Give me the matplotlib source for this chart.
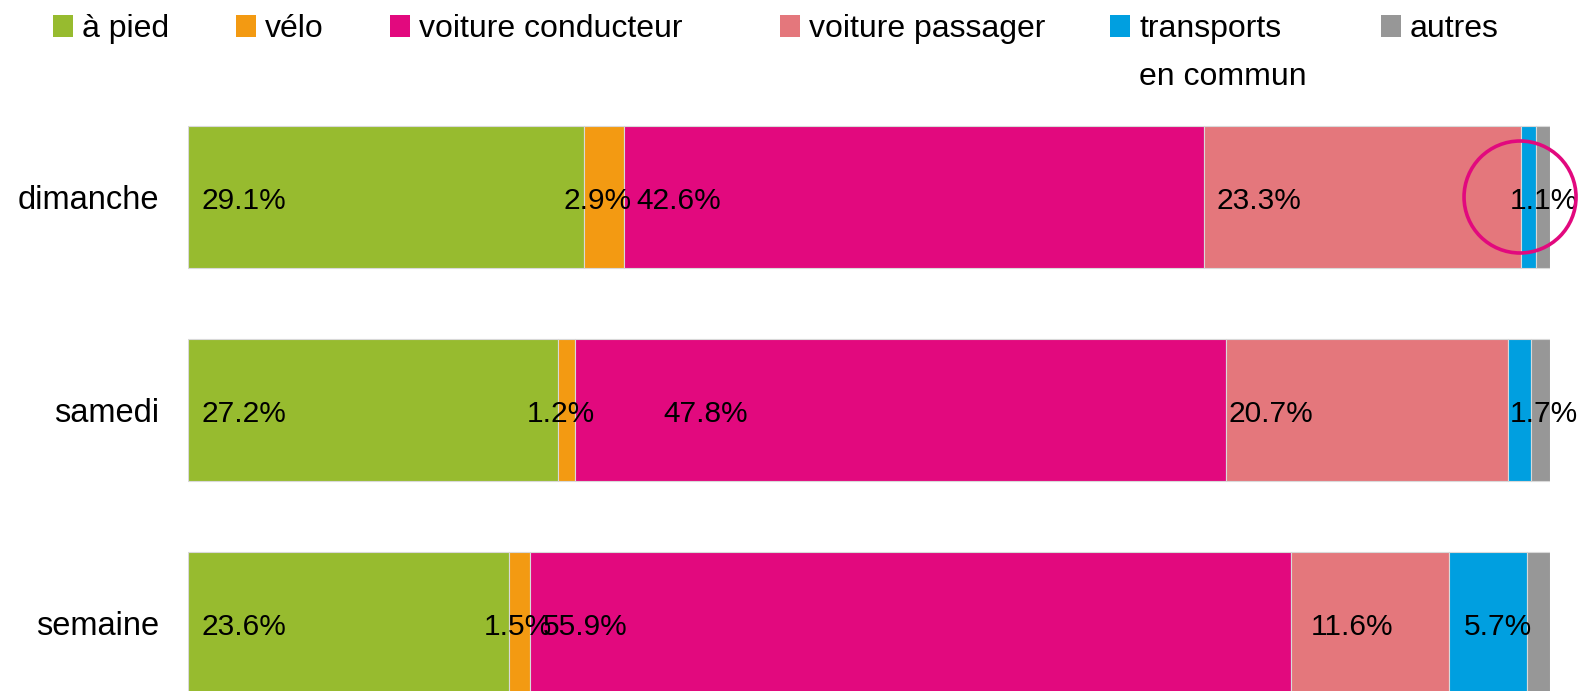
import matplotlib
matplotlib.use("Agg")
import matplotlib.pyplot as plt
from matplotlib.patches import Rectangle, Ellipse

plt.rcParams['font.family'] = ['Liberation Sans', 'DejaVu Sans']

# ---- data ----
categories = ["dimanche", "samedi", "semaine"]
series = ["à pied", "vélo", "voiture conducteur", "voiture passager", "transports\nen commun", "autres"]
a_pied = [29.1, 27.2, 23.6]
velo = [2.9, 1.2, 1.5]
voiture_conducteur = [42.6, 47.8, 55.9]
voiture_passager = [23.3, 20.7, 11.6]
transports = [1.1, 1.7, 5.7]
autres = [1.0, 1.4, 1.7]

# ---- style ----
colors = ["#97BB2F", "#F39A12", "#E2097E", "#E4777C", "#009FE0", "#979797"]
values = [a_pied, velo, voiture_conducteur, voiture_passager, transports, autres]
# label placement per (category, series): (mode, dx in %), None = no label
label_style = [
    [("left", 1.0), ("center", -0.5), ("left", 0.95), ("left", 0.95), ("center", 1.1), None],
    [("left", 1.0), ("center", -0.45), ("left", 6.5), ("left", 0.2), ("center", 1.8), None],
    [("left", 1.0), ("center", -0.15), ("left", 0.95), ("left", 1.4), ("left", 1.1), None],
]

W, H = 1585, 691
fig = plt.figure(figsize=(W / 100, H / 100), dpi=100)

ax_l, ax_r, ax_top = 188, 1550, 100
ax = fig.add_axes([ax_l / W, 0, (ax_r - ax_l) / W, (H - ax_top) / H])
px_per_unit = 213
bar_h = 142 / px_per_unit
ax.set_xlim(0, 100)
ax.set_ylim(-(H - 623) / px_per_unit, 2 + (197 - ax_top) / px_per_unit)
label_dy = -4 / px_per_unit

ypos = [2, 1, 0]
for ci, cat in enumerate(categories):
    left = 0.0
    for si in range(len(series)):
        v = values[si][ci]
        ax.barh(ypos[ci], v, left=left, height=bar_h, color=colors[si],
                edgecolor="#D9D9D9", linewidth=0.8)
        st = label_style[ci][si]
        if st is not None:
            mode, dx = st
            if mode == "left":
                ax.text(left + dx, ypos[ci] + label_dy, f"{v:.1f}%", ha="left", va="center",
                        fontsize=21.5, color="black", clip_on=False)
            else:
                ax.text(left + v / 2 + dx, ypos[ci] + label_dy, f"{v:.1f}%", ha="center", va="center",
                        fontsize=21.5, color="black", clip_on=False)
        left += v

ax.set_yticks(ypos)
ax.set_yticklabels(categories, fontsize=23.5)
ax.tick_params(axis="y", length=0, pad=21)
ax.set_xticks([])
for s in ax.spines.values():
    s.set_visible(False)

# highlight circle around dimanche small values
circ_px_d = 112
ax.add_patch(Ellipse((97.8, 2.0), circ_px_d / ((ax_r - ax_l) / 100), circ_px_d / px_per_unit,
                     fill=False, edgecolor="#E2097E", linewidth=2.6, clip_on=False, zorder=5))

# ---- legend (manual) ----
sq_x = [53, 236, 390, 780, 1110, 1381]
for i, name in enumerate(series):
    x0 = sq_x[i]
    fig.add_artist(Rectangle((x0 / W, 1 - 37 / H), 20 / W, 22 / H,
                             transform=fig.transFigure, color=colors[i], lw=0))
    lines = name.split("\n")
    for li, line in enumerate(lines):
        fig.text((x0 + 29) / W, 1 - (37 + 48 * li) / H, line, ha="left", va="baseline",
                 fontsize=23)

fig.savefig("out.png", dpi=100)
